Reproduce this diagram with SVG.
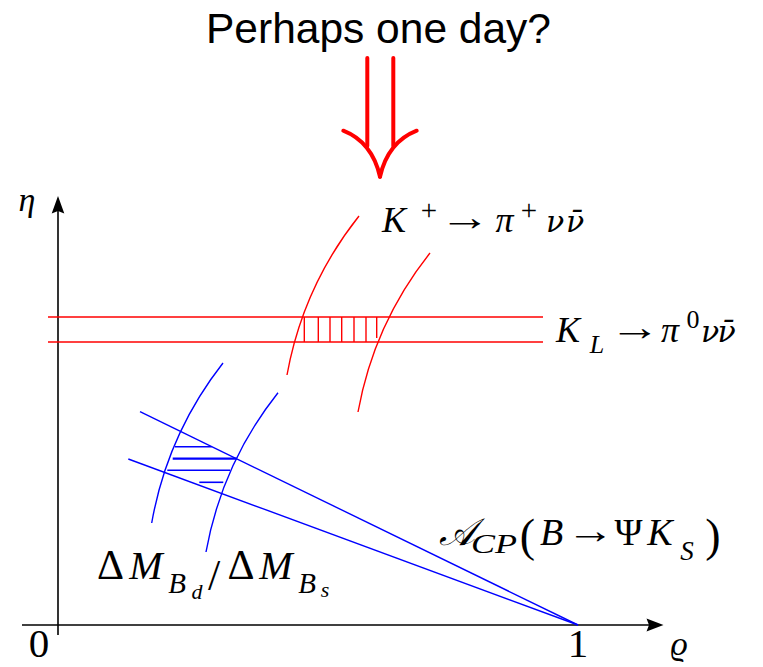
<svg xmlns="http://www.w3.org/2000/svg" width="763" height="667" viewBox="0 0 763 667">
<style>
  .m{font-family:"Liberation Serif","DejaVu Serif",serif;font-style:italic;text-anchor:middle;fill:#000}
  .n{font-family:"DejaVu Serif",serif;font-style:italic;text-anchor:middle;fill:#000}
  .r{font-family:"Liberation Serif","DejaVu Serif",serif;font-style:normal;text-anchor:middle;fill:#000}
  .ar{font-family:"Liberation Serif","DejaVu Serif",serif;font-style:normal;text-anchor:middle;fill:#000}
  .red{stroke:#ff0000;stroke-width:1.4;fill:none}
  .blue{stroke:#0000ff;stroke-width:1.4;fill:none}
  .ax{stroke:#000;stroke-width:1.6;fill:none}
</style>
<rect width="763" height="667" fill="#fff"/>

<g id="title">
  <text x="378.5" y="43" font-family="Liberation Sans, Arial, sans-serif" font-size="42.5" text-anchor="middle" fill="#000">Perhaps one day?</text>
</g>

<g id="big-arrow" stroke="#ff0000" stroke-width="4" fill="none" stroke-linecap="round" stroke-linejoin="round">
  <line x1="367.3" y1="58" x2="367.3" y2="146"/>
  <line x1="393.3" y1="58" x2="393.3" y2="146"/>
  <path d="M343.3,130.7 Q372,142 380,176.7"/>
  <path d="M416.7,130.7 Q388,142 380,176.7"/>
</g>

<g id="axes">
  <line class="ax" x1="22" y1="625" x2="650" y2="625"/>
  <polygon points="663.5,625 646.5,618.5 649,625 646.5,631.5" fill="#000"/>
  <line class="ax" x1="58" y1="635" x2="58" y2="210"/>
  <polygon points="58,196 51.7,213.5 58,211 64.3,213.5" fill="#000"/>
  <text class="m" x="27" y="211" font-size="34">η</text>
  <text class="m" x="679" y="655" font-size="34">ϱ</text>
  <text class="r" x="39" y="657" font-size="41">0</text>
  <text class="r" x="578" y="657" font-size="41">1</text>
</g>

<g id="KL-band">
  <line class="red" x1="48" y1="317" x2="543" y2="317"/>
  <line class="red" x1="48" y1="342" x2="543" y2="342"/>
</g>

<g id="Kplus-arcs">
  <path class="red" d="M359,216 Q303,286.5 287,375"/>
  <path class="red" d="M430,253 Q374,323.5 358,412"/>
</g>

<g id="red-hatch" stroke="#ff0000" stroke-width="1.4">
  <line x1="304.3" y1="317" x2="304.3" y2="342"/>
  <line x1="318.3" y1="317" x2="318.3" y2="342"/>
  <line x1="330" y1="317" x2="330" y2="342"/>
  <line x1="341.7" y1="317" x2="341.7" y2="342"/>
  <line x1="354" y1="317" x2="354" y2="342"/>
  <line x1="366" y1="317" x2="366" y2="342"/>
  <line x1="376.7" y1="317" x2="376.7" y2="338"/>
</g>

<g id="DeltaM-arcs">
  <path class="blue" d="M223,363 Q167.4,434 151.7,523"/>
  <path class="blue" d="M278,392.7 Q222,463.4 206,552"/>
</g>

<g id="ACP-lines">
  <line class="blue" x1="140" y1="411.7" x2="578" y2="625"/>
  <line class="blue" x1="128.3" y1="459" x2="578" y2="625"/>
</g>

<g id="blue-hatch" stroke="#0000ff" stroke-width="1.6">
  <line x1="175" y1="446.7" x2="211.7" y2="446.7"/>
  <line x1="172.7" y1="458.7" x2="236.7" y2="458.7" stroke-width="2.2"/>
  <line x1="167.3" y1="470.3" x2="230" y2="470.3"/>
  <line x1="199.3" y1="482.3" x2="223.3" y2="482.3"/>
</g>

<g id="label-Kplus">
  <text class="m" x="394" y="232" font-size="36">K</text>
  <text class="r" x="429" y="220" font-size="29">+</text>
  <text class="ar" transform="translate(465 0) scale(1.35 1)" x="0" y="230" font-size="38">→</text>
  <text class="m" x="504.5" y="232" font-size="36">π</text>
  <text class="r" x="529" y="220" font-size="29">+</text>
  <text class="n" x="555" y="232" font-size="30">ν</text>
  <text class="n" x="575" y="232" font-size="30">ν̄</text>
</g>

<g id="label-KL">
  <text class="m" x="568" y="342" font-size="36">K</text>
  <text class="m" x="597" y="353" font-size="26">L</text>
  <text class="ar" transform="translate(635 0) scale(1.35 1)" x="0" y="340" font-size="38">→</text>
  <text class="m" x="670" y="342" font-size="36">π</text>
  <text class="r" x="693" y="328" font-size="26">0</text>
  <text class="n" x="710" y="342" font-size="30">ν</text>
  <text class="n" x="726.5" y="342" font-size="30">ν̄</text>
</g>

<g id="label-ACP">
  <text class="m" x="457" y="545" font-size="38">𝒜</text>
  <text class="m" x="494" y="553" font-size="27" textLength="46" lengthAdjust="spacingAndGlyphs">CP</text>
  <text class="r" x="527.5" y="551" font-size="46">(</text>
  <text class="m" x="551.5" y="545" font-size="38">B</text>
  <text class="ar" transform="translate(590 0) scale(1.3 1)" x="0" y="543" font-size="37">→</text>
  <text class="r" x="628.5" y="545" font-size="38">Ψ</text>
  <text class="m" x="660" y="545" font-size="38">K</text>
  <text class="m" x="687" y="560" font-size="27">S</text>
  <text class="r" x="713" y="551" font-size="46">)</text>
</g>

<g id="label-DeltaM">
  <text class="r" x="110.5" y="579" font-size="42">Δ</text>
  <text class="m" x="146" y="579" font-size="40">M</text>
  <text class="m" x="177" y="593" font-size="29">B</text>
  <text class="m" x="197" y="599" font-size="22">d</text>
  <text class="r" x="214" y="590" font-size="44">/</text>
  <text class="r" x="241" y="579" font-size="42">Δ</text>
  <text class="m" x="276" y="579" font-size="40">M</text>
  <text class="m" x="307" y="593" font-size="29">B</text>
  <text class="m" x="325" y="597" font-size="22">s</text>
</g>
</svg>
